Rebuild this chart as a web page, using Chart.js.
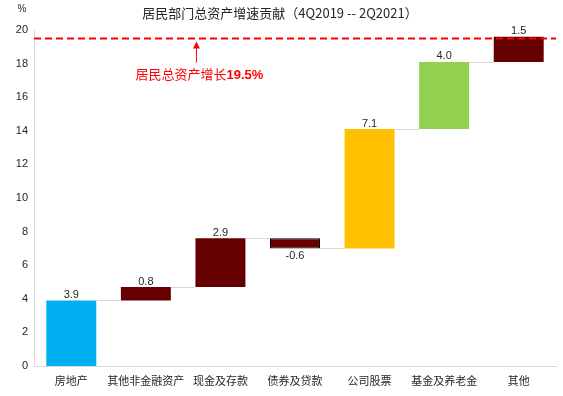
<!DOCTYPE html>
<html>
<head>
<meta charset="utf-8">
<script src="https://cdn.jsdelivr.net/npm/chart.js@4"></script>
<style>
  body { margin: 0; background: #fff; }
  #wrap { width: 563px; height: 396px; }
</style>
</head>
<body>
<div id="wrap"><canvas id="myChart"></canvas></div>
<script>
var categories = ['房地产', '其他非金融资产', '现金及存款', '债券及贷款', '公司股票', '基金及养老金', '其他']
var contributions = [3.9, 0.8, 2.9, -0.6, 7.1, 4.0, 1.5]
var bar_colors = ['#00B0F0', '#660000', '#660000', '#660000', '#FFC000', '#92D050', '#660000']
var y_ticks = [0, 2, 4, 6, 8, 10, 12, 14, 16, 18, 20]
var total_growth = 19.5

// build floating bars from the running total
var floating = []
var running = 0
for (var i = 0; i < contributions.length; i++) {
    var start = running
    running = Math.round((running + contributions[i]) * 10) / 10
    floating.push([start, running])
}

var fontCn = '"Noto Sans CJK SC", "Liberation Sans", sans-serif'

var waterfallExtras = {
    id: 'waterfallExtras',
    afterDatasetsDraw: function (chart) {
        var ctx = chart.ctx
        var meta = chart.getDatasetMeta(0)
        var x = chart.scales.x
        var y = chart.scales.y
        var area = chart.chartArea
        ctx.save()

        // connector lines
        ctx.strokeStyle = '#d9d9d9'
        ctx.lineWidth = 1
        for (var i = 0; i < meta.data.length - 1; i++) {
            var a = meta.data[i], b = meta.data[i + 1]
            var py = Math.round(y.getPixelForValue(floating[i][1])) + 0.5
            ctx.beginPath()
            ctx.moveTo(a.x + a.width / 2, py)
            ctx.lineTo(b.x - b.width / 2, py)
            ctx.stroke()
        }

        // value labels
        ctx.fillStyle = '#262626'
        ctx.font = '11px "Liberation Sans", Arial, sans-serif'
        ctx.textAlign = 'center'
        for (var i = 0; i < meta.data.length; i++) {
            var el = meta.data[i]
            var v = contributions[i]
            if (v >= 0) {
                ctx.textBaseline = 'bottom'
                ctx.fillText(v.toFixed(1), el.x, y.getPixelForValue(floating[i][1]))
            } else {
                ctx.textBaseline = 'top'
                ctx.fillText(v.toFixed(1), el.x, y.getPixelForValue(floating[i][1]) + 2)
            }
        }

        // total growth dashed line
        var ty = Math.round(y.getPixelForValue(total_growth)) + 0.5
        ctx.strokeStyle = '#FF0000'
        ctx.lineWidth = 2
        ctx.setLineDash([7, 4])
        ctx.beginPath()
        ctx.moveTo(area.left, ty)
        ctx.lineTo(area.right, ty)
        ctx.stroke()
        ctx.setLineDash([])

        // arrow + note
        var ax = x.getPixelForValue(2) - 24
        ctx.strokeStyle = '#FF0000'
        ctx.lineWidth = 1
        ctx.beginPath()
        ctx.moveTo(ax, ty + 24)
        ctx.lineTo(ax, ty + 8)
        ctx.stroke()
        ctx.fillStyle = '#FF0000'
        ctx.beginPath()
        ctx.moveTo(ax, ty + 3)
        ctx.lineTo(ax - 3.5, ty + 10)
        ctx.lineTo(ax + 3.5, ty + 10)
        ctx.closePath()
        ctx.fill()

        ctx.textBaseline = 'middle'
        ctx.textAlign = 'left'
        var t1 = '居民总资产增长'
        var t2 = total_growth + '%'
        ctx.font = '13px ' + fontCn
        var w1 = ctx.measureText(t1).width
        ctx.font = 'bold 13px "Liberation Sans", Arial, sans-serif'
        var w2 = ctx.measureText(t2).width
        var sx = ax + 3 - (w1 + w2) / 2
        ctx.font = '13px ' + fontCn
        ctx.fillText(t1, sx, ty + 36)
        ctx.font = 'bold 13px "Liberation Sans", Arial, sans-serif'
        ctx.fillText(t2, sx + w1, ty + 37)

        // title and unit
        ctx.fillStyle = '#262626'
        ctx.textAlign = 'center'
        ctx.font = '13px ' + fontCn
        ctx.fillText('居民部门总资产增速贡献（4Q2019 -- 2Q2021）', 280, 13)
        ctx.font = '10px "Liberation Sans", Arial, sans-serif'
        ctx.fillText('%', 22, 9)
        ctx.restore()
    }
}

let myChart = document.getElementById('myChart').getContext('2d')
let waterfall = new Chart(myChart, {
    type: 'bar',
    data: {
        labels: categories,
        datasets: [{
            data: floating,
            backgroundColor: bar_colors,
            borderColor: ['#00B0F0', '#660000', '#660000', '#000000', '#FFC000', '#92D050', '#660000'],
            borderWidth: [0, 0, 0, 1, 0, 0, 0],
            borderSkipped: false,
            barPercentage: 0.67,
            categoryPercentage: 1.0
        }]
    },
    options: {
        responsive: true,
        maintainAspectRatio: false,
        animation: false,
        layout: { padding: { left: 0, right: 7, top: 30, bottom: 0 } },
        plugins: {
            legend: { display: false },
            tooltip: { enabled: false },
            title: { display: false }
        },
        scales: {
            x: {
                grid: { display: false, drawTicks: false },
                border: { color: '#d9d9d9', width: 1 },
                ticks: {
                    color: '#262626',
                    font: { size: 11, family: fontCn },
                    padding: 8,
                    maxRotation: 0,
                    autoSkip: false
                },
                afterFit: function (scale) { scale.height = 30 }
            },
            y: {
                min: 0,
                max: 20,
                grid: { display: false, drawTicks: false },
                border: { color: '#d9d9d9', width: 1 },
                afterBuildTicks: function (scale) {
                    scale.ticks = y_ticks.map(function (v) { return { value: v } })
                },
                ticks: {
                    color: '#262626',
                    font: { size: 11, family: '"Liberation Sans", Arial, sans-serif' },
                    padding: 6
                },
                afterFit: function (scale) { scale.width = 34 }
            }
        }
    },
    plugins: [waterfallExtras]
});
</script>
</body>
</html>
